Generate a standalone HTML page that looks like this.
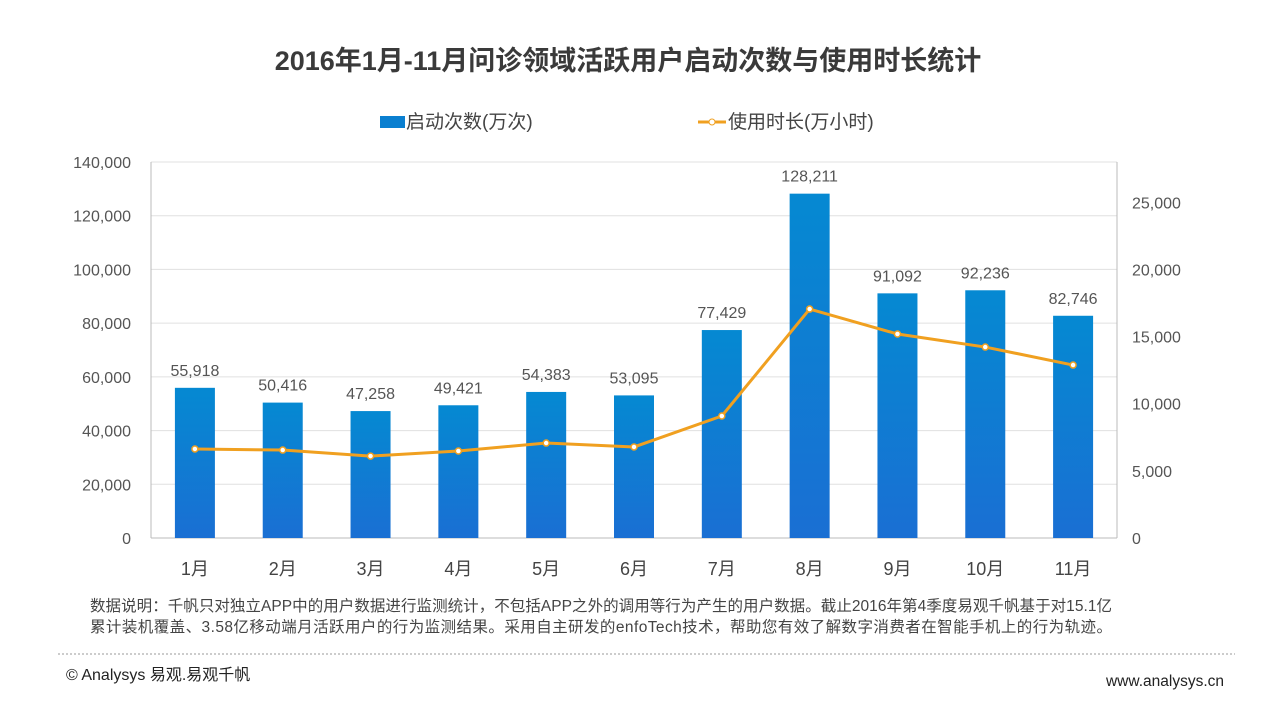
<!DOCTYPE html>
<html><head><meta charset="utf-8"><style>
body{margin:0;width:1280px;height:720px;background:#fff;overflow:hidden;font-family:"Liberation Sans","Noto Sans CJK SC",sans-serif;}
svg text{font-family:"Liberation Sans","Noto Sans CJK SC",sans-serif;}
</style></head><body>
<svg id="chart" width="1280" height="720">
<defs><linearGradient id="bg" x1="0" y1="0" x2="0" y2="1"><stop offset="0" stop-color="#0589d2"/><stop offset="1" stop-color="#1a6fd3"/></linearGradient></defs>
<text x="628" y="70" text-anchor="middle" font-size="27" font-weight="bold" fill="#3a3a3a">2016年1月-11月问诊领域活跃用户启动次数与使用时长统计</text>
<g><rect x="380" y="116" width="25" height="12" fill="#0a7fd0"/><text x="406" y="128" font-size="19" fill="#444">启动次数(万次)</text></g>
<g><line x1="698" y1="122" x2="726" y2="122" stroke="#f0a020" stroke-width="3"/><circle cx="712" cy="122" r="3" fill="#fff" stroke="#f0a020"/><text x="728" y="128" font-size="19" fill="#444">使用时长(万小时)</text></g>
<g id="grid"></g><g id="bars"></g><g id="line"></g><g id="axes"></g>
<text x="90" y="611" font-size="15.5" fill="#444" textLength="1022">数据说明：千帆只对独立APP中的用户数据进行监测统计，不包括APP之外的调用等行为产生的用户数据。截止2016年第4季度易观千帆基于对15.1亿</text>
<text x="90" y="632" font-size="15.5" fill="#444" textLength="1022">累计装机覆盖、3.58亿移动端月活跃用户的行为监测结果。采用自主研发的enfoTech技术，帮助您有效了解数字消费者在智能手机上的行为轨迹。</text>
<line x1="58" y1="654" x2="1235" y2="654" stroke="#999" stroke-dasharray="2,2"/>
<text x="66" y="680" font-size="16" fill="#222">© Analysys 易观.易观千帆</text>
<text x="1224" y="686" font-size="15.5" fill="#222" text-anchor="end">www.analysys.cn</text>
</svg>
<script>
const categories=["1月","2月","3月","4月","5月","6月","7月","8月","9月","10月","11月"];
const launches=[55918,50416,47258,49421,54383,53095,77429,128211,91092,92236,82746];
const duration=[6630,6550,6100,6480,7070,6780,9085,17050,15190,14220,12880];
const leftTicks=[0,20000,40000,60000,80000,100000,120000,140000];
const rightTicks=[0,5000,10000,15000,20000,25000];
const NS="http://www.w3.org/2000/svg";
const x0=151,x1=1117,yb=538,yt=162;
const bw=(x1-x0)/categories.length;
const yL=v=>yb-(v/140000)*(yb-yt);
const yR=v=>yb-(v/28000)*(yb-yt);
const xC=i=>x0+bw*(i+0.5);
const fmt=v=>v.toLocaleString("en-US");
function mk(tag,attrs,parent,txt){const e=document.createElementNS(NS,tag);for(const k in attrs)e.setAttribute(k,attrs[k]);if(txt!==undefined)e.textContent=txt;document.getElementById(parent).appendChild(e);return e;}
leftTicks.forEach(t=>{
 const l=mk("line",{x1:x0,x2:x1,y1:yL(t),y2:yL(t),stroke:t===0?"#bbb":"#e0e0e0"},"grid");
 
 
 const tx=mk("text",{x:131,y:yL(t)+6,"text-anchor":"end","font-size":16,fill:"#555"},"axes",fmt(t));
 
 
});
rightTicks.forEach(t=>{
 const tx=mk("text",{x:1132,y:yR(t)+6,"font-size":16,fill:"#555"},"axes",fmt(t));
 
 
});
[x0,x1].forEach(x=>{const l=mk("line",{x1:x,x2:x,y1:yt,y2:yb,stroke:"#bbb"},"axes");
 
 });
categories.forEach((c,i)=>{
 const v=launches[i];
 const r=mk("rect",{x:xC(i)-20,y:yL(v),width:40,height:yb-yL(v),fill:"url(#bg)"},"bars");
 
 
 const lb=mk("text",{x:xC(i),y:yL(v)-12,"text-anchor":"middle","font-size":16,fill:"#555"},"bars",fmt(v));
 
 
 const cx=mk("text",{x:xC(i),y:575,"text-anchor":"middle","font-size":18,fill:"#444"},"axes",c);
 
 
});
const pts=duration.map((v,i)=>xC(i)+","+yR(v)).join(" ");
const pl=mk("polyline",{points:pts,fill:"none",stroke:"#f0a020","stroke-width":3},"line");


duration.forEach((v,i)=>{
 const c=mk("circle",{cx:xC(i),cy:yR(v),r:3,fill:"#fff",stroke:"#f0a020","stroke-width":1.5},"line");
 
 
});
</script>
</body></html>
